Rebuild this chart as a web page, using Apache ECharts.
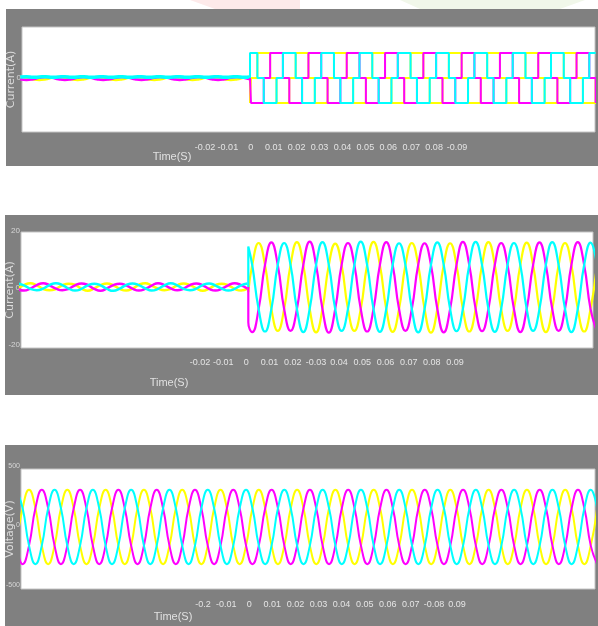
<!DOCTYPE html>
<html><head><meta charset="utf-8">
<script src="https://cdn.jsdelivr.net/npm/echarts@6/dist/echarts.min.js"></script>
<style>html,body{margin:0;padding:0;background:#fff}#c{width:598px;height:626px}</style>
</head><body><div id="c"></div>
<script>
// ---- sampling: one sample every 60 degrees of a 50 Hz cycle (ms) ----
const STEP = 20 / 6;

// ---- tick label strips (as printed in the figure) ----
const p1TickLabels = ['-0.02','-0.01','0','0.01','0.02','0.03','0.04','0.05','0.06','0.07','0.08','-0.09'];
const p2TickLabels = ['-0.02','-0.01','0','0.01','0.02','-0.03','0.04','0.05','0.06','0.07','0.08','0.09'];
const p3TickLabels = ['-0.2','-0.01','0','0.01','0.02','0.03','0.04','0.05','0.06','0.07','-0.08','0.09'];
const p1YTicks = [0];
const p2YTicks = [-20, 0, 20];
const p3YTicks = [-500, 0, 500];

// ---- panel 1 : current (quasi-square) ----
const p1PreStart = -120, p1PostStart = 0.52;
const yellow1Pre  = [0.04,0.01,-0.05,-0.08,-0.05,0.01, 0.04,0.01,-0.05,-0.08,-0.05,0.01, 0.04,0.01,-0.05,-0.08,-0.05,0.01, 0.04,0.01,-0.05,-0.08,-0.05,0.01, 0.04,0.01,-0.05,-0.08,-0.05,0.01, 0.04,0.01,-0.05,-0.08,-0.05,0.01, 0.04];
const magenta1Pre = [-0.05,-0.08,-0.05,0.01,0.04,0.01, -0.05,-0.08,-0.05,0.01,0.04,0.01, -0.05,-0.08,-0.05,0.01,0.04,0.01, -0.05,-0.08,-0.05,0.01,0.04,0.01, -0.05,-0.08,-0.05,0.01,0.04,0.01, -0.05,-0.08,-0.05,0.01,0.04,0.01, -0.05];
const cyan1Pre    = [0.04,0.05,0.03,0.04,0.05,0.03, 0.04,0.05,0.03,0.04,0.05,0.03, 0.04,0.05,0.03,0.04,0.05,0.03, 0.04,0.05,0.03,0.04,0.05,0.03, 0.04,0.05,0.03,0.04,0.05,0.03, 0.04,0.05,0.03,0.04,0.05,0.03, 0.04];
const yellow1Post  = [0,-1, 0,1,1,0,-1,-1, 0,1,1,0,-1,-1, 0,1,1,0,-1,-1, 0,1,1,0,-1,-1, 0,1,1,0,-1,-1, 0,1,1,0,-1,-1, 0,1,1,0,-1,-1, 0,1,1,0,-1,-1, 0,1,1,0,-1,-1, 0];
const magenta1Post = [0,0, -1,-1,0,1,1,0, -1,-1,0,1,1,0, -1,-1,0,1,1,0, -1,-1,0,1,1,0, -1,-1,0,1,1,0, -1,-1,0,1,1,0, -1,-1,0,1,1,0, -1,-1,0,1,1,0, -1,-1,0,1,1,0, -1];
const cyan1Post    = [0,1, 1,0,-1,-1,0,1, 1,0,-1,-1,0,1, 1,0,-1,-1,0,1, 1,0,-1,-1,0,1, 1,0,-1,-1,0,1, 1,0,-1,-1,0,1, 1,0,-1,-1,0,1, 1,0,-1,-1,0,1, 1,0,-1,-1,0,1, 1];

// ---- panel 2 : current (sinusoidal) ----
const p2PreStart = -120.47, p2PostStart = 2.05;
const yellow2Pre  = [-0.6,0.7,1.4,0.6,-0.7,-1.2, -0.7,0.6,1.2,0.8,-0.6,-1.4, -0.5,0.7,1.3,0.6,-0.7,-1.3, -0.6,0.8,1.4,0.5,-0.6,-1.2, -0.7,0.6,1.3,0.7,-0.5,-1.4, -0.6,0.7,1.2,0.6,-0.7,-1.3, -0.6];
const magenta2Pre = [-0.7,-1.3,-0.6,0.7,1.4,0.6, -0.6,-1.2,-0.7,0.6,1.3,0.7, -0.7,-1.4,-0.5,0.7,1.2,0.6, -0.6,-1.3,-0.7,0.5,1.4,0.7, -0.5,-1.2,-0.6,0.7,1.3,0.6, -0.7,-1.3,-0.6,0.6,1.4,0.7, -0.6];
const cyan2Pre    = [1.3,0.6,-0.7,-1.2,-0.6,0.7, 1.4,0.7,-0.6,-1.3,-0.7,0.6, 1.2,0.6,-0.7,-1.4,-0.6,0.7, 1.3,0.7,-0.5,-1.3,-0.7,0.6, 1.4,0.6,-0.7,-1.2,-0.6,0.7, 1.3,0.5,-0.6,-1.3,-0.7,0.6, 1.3];
const yellow2Post  = [0,-1.9, 8,16,8,-8,-16,-8, 8,16.3,8,-8,-16.5,-8, 8,15.8,8,-8,-16,-8, 8,16.4,8,-8,-16.3,-8, 8,16,8,-8,-16.6,-8, 8,15.9,8,-8,-16.2,-8, 8,16.3,8,-8,-16,-8, 8,16.1,8,-8,-16.4,-8, 8,16,8,-8,-16.2,-8, 8];
const magenta2Post = [0,-12.8, -16.4,-8,8,16.2,8,-8, -16,-8,8,16.5,8,-8, -16.6,-8,8,16,8,-8, -16.2,-8,8,16.3,8,-8, -16,-8,8,15.9,8,-8, -16.5,-8,8,16.4,8,-8, -16.1,-8,8,16,8,-8, -16.4,-8,8,16.2,8,-8, -16,-8,8,16.3,8,-8, -16.2];
const cyan2Post    = [0,14.7, 8,-8,-16.2,-8,8,16, 8,-8,-16.4,-8,8,16.3, 8,-8,-16,-8,8,16.5, 8,-8,-16.3,-8,8,15.9, 8,-8,-16.5,-8,8,16.2, 8,-8,-16.1,-8,8,16.4, 8,-8,-16.3,-8,8,16, 8,-8,-16,-8,8,16.3, 8,-8,-16.4,-8,8,16.1, 8];

// ---- panel 3 : voltage ----
const p3Start = -122.48;
const yellow3  = [-156, 156,311,156,-156,-311,-156, 156,311,156,-156,-311,-156, 156,311,156,-156,-311,-156, 156,311,156,-156,-311,-156, 156,311,156,-156,-311,-156, 156,311,156,-156,-311,-156, 156,311,156,-156,-311,-156, 156,311,156,-156,-311,-156, 156,311,156,-156,-311,-156, 156,311,156,-156,-311,-156, 156,311,156,-156,-311,-156, 156,311,156,-156,-311,-156, 156,311,156,-156,-311,-156, 156,311,156,-156,-311,-156, 156,311,156,-156,-311,-156, 156];
const magenta3 = [-156, -311,-156,156,311,156,-156, -311,-156,156,311,156,-156, -311,-156,156,311,156,-156, -311,-156,156,311,156,-156, -311,-156,156,311,156,-156, -311,-156,156,311,156,-156, -311,-156,156,311,156,-156, -311,-156,156,311,156,-156, -311,-156,156,311,156,-156, -311,-156,156,311,156,-156, -311,-156,156,311,156,-156, -311,-156,156,311,156,-156, -311,-156,156,311,156,-156, -311,-156,156,311,156,-156, -311,-156,156,311,156,-156, -311];
const cyan3    = [311, 156,-156,-311,-156,156,311, 156,-156,-311,-156,156,311, 156,-156,-311,-156,156,311, 156,-156,-311,-156,156,311, 156,-156,-311,-156,156,311, 156,-156,-311,-156,156,311, 156,-156,-311,-156,156,311, 156,-156,-311,-156,156,311, 156,-156,-311,-156,156,311, 156,-156,-311,-156,156,311, 156,-156,-311,-156,156,311, 156,-156,-311,-156,156,311, 156,-156,-311,-156,156,311, 156,-156,-311,-156,156,311, 156,-156,-311,-156,156,311, 156];

// ---- helpers ----
function times(start, n) { const a = []; for (let i = 0; i < n; i++) a.push(+(start + i * STEP).toFixed(3)); return a; }
function pairs(ts, vs) { return vs.map((v, i) => [ts[i], v]); }
const YEL = '#ffff00', MAG = '#ff00ff', CYA = '#00ffff';
const GREY = '#808080';

const t1Pre = times(p1PreStart, yellow1Pre.length);
const t1Post = [0, 0].concat(times(p1PostStart, yellow1Post.length - 2));
const t2Pre = times(p2PreStart, yellow2Pre.length);
const t2Post = [0, 0].concat(times(p2PostStart, yellow2Post.length - 2));
const t3 = times(p3Start, yellow3.length);

function line(xi, data, color, width, opts) {
  return Object.assign({
    type: 'line', xAxisIndex: xi, yAxisIndex: xi, data: data,
    symbol: 'none', showSymbol: false, animation: false, silent: true,
    lineStyle: { color: color, width: width }
  }, opts || {});
}

function mainY(gi, min, max, name) {
  return {
    gridIndex: gi, type: 'value', min: min, max: max,
    splitLine: { show: false }, axisLine: { show: false }, axisTick: { show: false },
    axisLabel: { show: false },
    name: name, nameLocation: 'middle', nameRotate: 90, nameGap: 5,
    nameTextStyle: { color: '#dcdcdc', fontSize: 11, fontFamily: 'DejaVu Sans' }
  };
}
function labelY(gi, min, max, ticks, size) {
  return {
    gridIndex: gi, type: 'value', min: min, max: max,
    splitLine: { show: false }, axisLine: { show: false }, axisTick: { show: false },
    axisLabel: { customValues: ticks, color: '#d6d6d6', fontSize: size, margin: 1, fontFamily: 'Liberation Sans' }
  };
}
function stripAxis(gi, labels) {
  return {
    gridIndex: gi, type: 'category', data: labels, boundaryGap: true,
    axisLine: { show: false }, axisTick: { show: false }, splitLine: { show: false },
    axisLabel: { interval: 0, color: '#e4e4e4', fontSize: 9, margin: 0, fontFamily: 'Liberation Sans' }
  };
}
const plain = { outerBoundsMode: 'none', containLabel: false };
const plotGrid = Object.assign({ show: true, backgroundColor: '#ffffff', borderColor: '#c4c4c4', borderWidth: 1 }, plain);
function g(o, base) { return Object.assign({}, base || plain, o); }

const option = {
  animation: false,
  backgroundColor: '#ffffff',
  grid: [
    g({ left: 22, top: 27, width: 573, height: 105 }, plotGrid),
    g({ left: 21, top: 232, width: 572, height: 116 }, plotGrid),
    g({ left: 21, top: 469, width: 574, height: 120 }, plotGrid),
    g({ left: 193.5, top: 142, width: 275, height: 1 }),
    g({ left: 188.4, top: 357, width: 278.2, height: 1 }),
    g({ left: 191.5, top: 599, width: 277.1, height: 1 }),
    g({ left: 22, top: 67.5, width: 10, height: 20 }),
    g({ left: 21, top: 231, width: 10, height: 114 }),
    g({ left: 21, top: 466, width: 10, height: 119 })
  ],
  xAxis: [
    { gridIndex: 0, type: 'value', min: -119.06, max: 180.16, show: false },
    { gridIndex: 1, type: 'value', min: -118.7, max: 180.0, show: false },
    { gridIndex: 2, type: 'value', min: -120, max: 179.74, show: false },
    stripAxis(3, p1TickLabels),
    stripAxis(4, p2TickLabels),
    stripAxis(5, p3TickLabels),
    { gridIndex: 6, type: 'value', show: false },
    { gridIndex: 7, type: 'value', show: false },
    { gridIndex: 8, type: 'value', show: false }
  ],
  yAxis: [
    mainY(0, -2.16, 2.04, 'Current(A)'),
    mainY(1, -22.2, 20, 'Current(A)'),
    mainY(2, -519, 485, 'Voltage(V)'),
    { gridIndex: 3, type: 'value', show: false },
    { gridIndex: 4, type: 'value', show: false },
    { gridIndex: 5, type: 'value', show: false },
    labelY(6, -1, 1, p1YTicks, 8),
    labelY(7, -20, 20, p2YTicks, 8),
    labelY(8, -500, 500, p3YTicks, 7)
  ],
  graphic: [
    { type: 'polygon', z: -20, shape: { points: [[190,0],[300,0],[300,9],[215,9]] }, style: { fill: '#fdeaea' } },
    { type: 'polygon', z: -20, shape: { points: [[400,0],[585,0],[560,9],[420,9]] }, style: { fill: '#f1f7ea' } },
    { type: 'rect', z: -10, shape: { x: 6, y: 9, width: 592, height: 157 }, style: { fill: GREY } },
    { type: 'rect', z: -10, shape: { x: 5, y: 215, width: 593, height: 180 }, style: { fill: GREY } },
    { type: 'rect', z: -10, shape: { x: 5, y: 445, width: 593, height: 181 }, style: { fill: GREY } },
    { type: 'text', x: 172, y: 157, style: { text: 'Time(S)', fill: '#e0e0e0', fontSize: 11, fontFamily: 'Liberation Sans', align: 'center', verticalAlign: 'middle' } },
    { type: 'text', x: 169, y: 383, style: { text: 'Time(S)', fill: '#e0e0e0', fontSize: 11, fontFamily: 'Liberation Sans', align: 'center', verticalAlign: 'middle' } },
    { type: 'text', x: 173, y: 617, style: { text: 'Time(S)', fill: '#e0e0e0', fontSize: 11, fontFamily: 'Liberation Sans', align: 'center', verticalAlign: 'middle' } }
  ],
  series: [
    line(0, pairs(t1Pre, yellow1Pre), YEL, 2.5, { smooth: true }),
    line(0, pairs(t1Pre, magenta1Pre), MAG, 2.5, { smooth: true }),
    line(0, pairs(t1Pre, cyan1Pre), CYA, 3.5, { smooth: true }),
    line(0, pairs(t1Post, yellow1Post), YEL, 2, { step: 'end' }),
    line(0, pairs(t1Post, magenta1Post), MAG, 2, { step: 'end' }),
    line(0, pairs(t1Post, cyan1Post), CYA, 2, { step: 'end' }),

    line(1, pairs(t2Pre, yellow2Pre), YEL, 2.5, { smooth: true }),
    line(1, pairs(t2Pre, magenta2Pre), MAG, 2.5, { smooth: true }),
    line(1, pairs(t2Pre, cyan2Pre), CYA, 2.5, { smooth: true }),
    line(1, pairs(t2Post, yellow2Post), YEL, 2.2, { smooth: true }),
    line(1, pairs(t2Post, magenta2Post), MAG, 2.2, { smooth: true }),
    line(1, pairs(t2Post, cyan2Post), CYA, 2.2, { smooth: true }),

    line(2, pairs(t3, yellow3), YEL, 2, { smooth: true }),
    line(2, pairs(t3, magenta3), MAG, 2, { smooth: true }),
    line(2, pairs(t3, cyan3), CYA, 2, { smooth: true })
  ]
};
const chart = echarts.init(document.getElementById('c'), null, { renderer: 'canvas' });
chart.setOption(option);
</script>
</body></html>
